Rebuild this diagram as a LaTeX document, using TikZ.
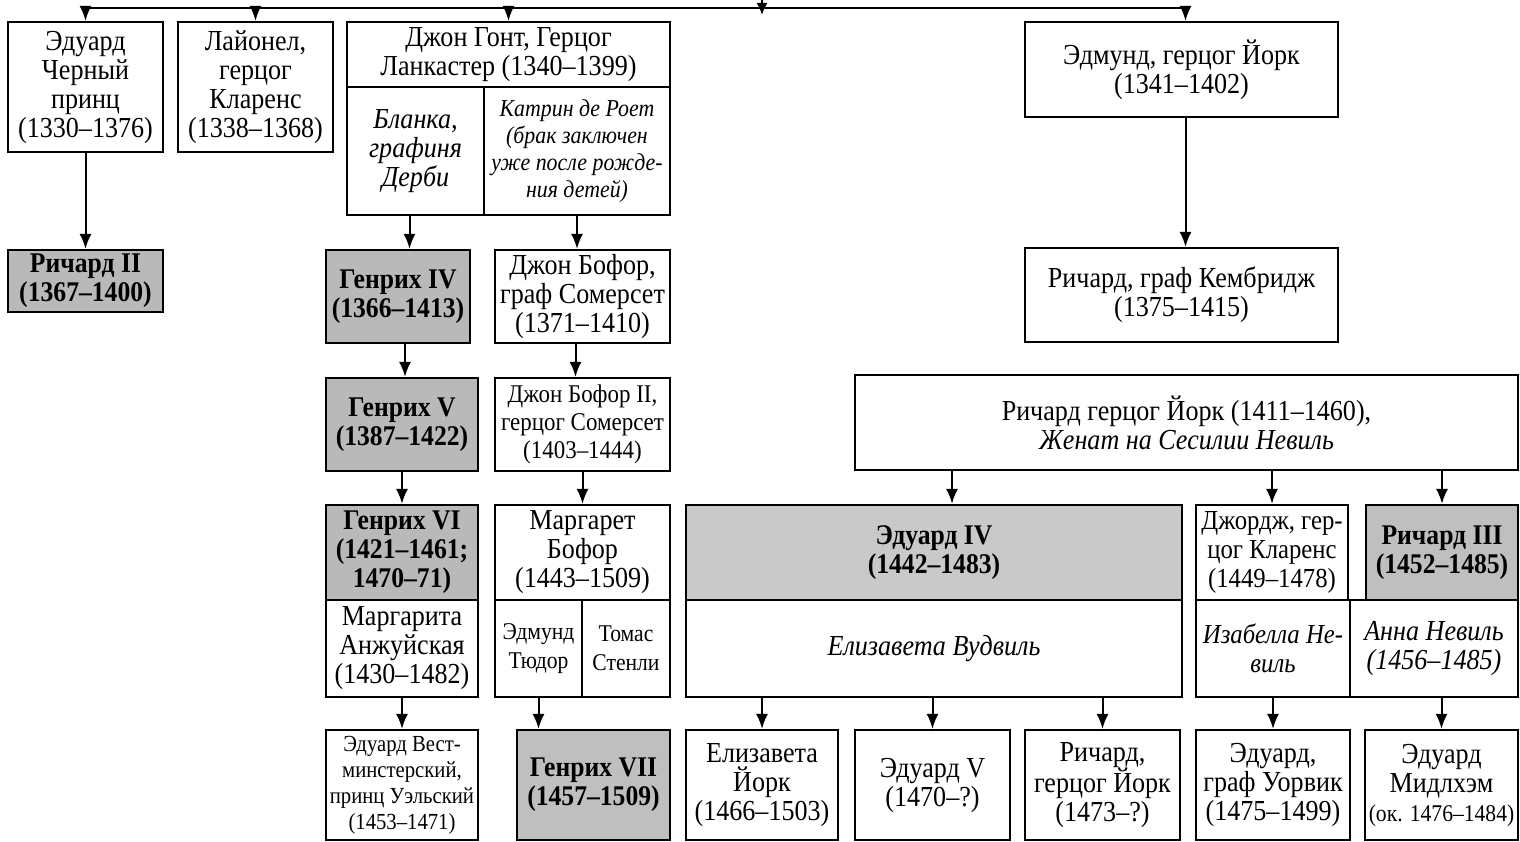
\documentclass[tikz,border=0pt]{standalone}
\usepackage{fontspec}
\setmainfont{Liberation Serif}[FakeStretch=0.9]
\usetikzlibrary{arrows.meta}
\begin{document}
\begin{tikzpicture}[x=1pt,y=-1pt,
boxstyle/.style={draw,line width=2.2pt,rectangle,align=center,inner sep=1pt,font=\fontsize{29}{29}\selectfont},
greystyle/.style={boxstyle,fill=gray!55,font=\fontsize{28.5}{29}\selectfont\bfseries},
slantstyle/.style={boxstyle,font=\fontsize{29}{29}\selectfont\itshape},
linkstyle/.style={line width=2pt,-{Latex[length=15pt,width=12pt]}}]
\useasboundingbox (0,0) rectangle (1520,842);
\coordinate (P0) at (762,0);
\coordinate (P1) at (762,8);
\coordinate (P2) at (762,15);
\node[boxstyle,minimum width=155,minimum height=130](E1) at (85.5,87){Эдуард\\Черный\\принц\\(1330–1376)};
\node[boxstyle,minimum width=155,minimum height=130](L1) at (255.5,87){Лайонел,\\герцог\\Кларенс\\(1338–1368)};
\node[boxstyle,minimum width=323,minimum height=65](J1) at (508.5,54.5){Джон Гонт, Герцог\\Ланкастер (1340–1399)};
\node[slantstyle,minimum width=137,minimum height=128](B1) at (415.5,151){Бланка,\\графиня\\Дерби};
\node[slantstyle,minimum width=186,minimum height=128,font=\fontsize{24.3}{27}\selectfont\itshape](K1) at (577,151){Катрин де Роет\\(брак заключен\\уже после рожде-\\ния детей)};
\node[boxstyle,minimum width=313,minimum height=95](Y1) at (1181.5,69.5){Эдмунд, герцог Йорк\\(1341–1402)};
\node[greystyle,minimum width=155,minimum height=62](R2) at (85.5,281){Ричард II\\(1367–1400)};
\node[greystyle,minimum width=144,minimum height=93](H4) at (398,296.5){Генрих IV\\(1366–1413)};
\node[boxstyle,minimum width=175,minimum height=93](S1) at (582.5,296.5){Джон Бофор,\\граф Сомерсет\\(1371–1410)};
\node[boxstyle,minimum width=313,minimum height=94](C1) at (1181.5,295){Ричард, граф Кембридж\\(1375–1415)};
\node[greystyle,minimum width=152,minimum height=93](H5) at (402,424.5){Генрих V\\(1387–1422)};
\node[boxstyle,minimum width=175,minimum height=93,font=\fontsize{25.5}{28}\selectfont](S2) at (582.5,424.5){Джон Бофор II,\\герцог Сомерсет\\(1403–1444)};
\node[boxstyle,minimum width=663,minimum height=95](Y2) at (1186.5,422.5){Ричард герцог Йорк (1411–1460),\\\textit{Женат на Сесилии Невиль}};
\node[greystyle,minimum width=152,minimum height=95](H6) at (402,552.5){Генрих VI\\(1421–1461;\\1470–71)};
\node[boxstyle,minimum width=152,minimum height=97](M1) at (402,648.5){Маргарита\\Анжуйская\\(1430–1482)};
\node[boxstyle,minimum width=175,minimum height=95](M2) at (582.5,552.5){Маргарет\\Бофор\\(1443–1509)};
\node[boxstyle,minimum width=87,minimum height=97,font=\fontsize{24}{29}\selectfont](U1) at (538.5,648.5){Эдмунд\\Тюдор};
\node[boxstyle,minimum width=88,minimum height=97,font=\fontsize{24}{29}\selectfont](U2) at (626,648.5){Томас\\Стенли};
\node[greystyle,minimum width=496,minimum height=95,fill=gray!42](E4) at (934,552.5){Эдуард IV\\(1442–1483)};
\node[slantstyle,minimum width=496,minimum height=97](W1) at (934,648.5){Елизавета Вудвиль};
\node[boxstyle,minimum width=152,minimum height=95,font=\fontsize{27.5}{29}\selectfont](G1) at (1272,552.5){Джордж, гер-\\цог Кларенс\\(1449–1478)};
\node[greystyle,minimum width=152,minimum height=95,fill=gray!50](R3) at (1442,552.5){Ричард III\\(1452–1485)};
\node[slantstyle,minimum width=154,minimum height=97,font=\fontsize{27.5}{29}\selectfont\itshape](I1) at (1273,648.5){Изабелла Не-\\виль};
\node[slantstyle,minimum width=168,minimum height=97](A1) at (1434,648.5){Анна Невиль\\(1456–1485)};
\node[boxstyle,minimum width=152,minimum height=110,font=\fontsize{23}{26}\selectfont](W2) at (402,785){Эдуард Вест-\\минстерский,\\принц Уэльский\\(1453–1471)};
\node[greystyle,minimum width=153,minimum height=110,fill=gray!50](H7) at (593.5,785){Генрих VII\\(1457–1509)};
\node[boxstyle,minimum width=152,minimum height=110](Z1) at (762,785){Елизавета\\Йорк\\(1466–1503)};
\node[boxstyle,minimum width=155,minimum height=110](E5) at (932.5,785){Эдуард V\\(1470–?)};
\node[boxstyle,minimum width=155,minimum height=110](R4) at (1102.5,785){Ричард,\\герцог Йорк\\(1473–?)};
\node[boxstyle,minimum width=154,minimum height=110](E6) at (1273,785){Эдуард,\\граф Уорвик\\(1475–1499)};
\node[boxstyle,minimum width=153,minimum height=110](E7) at (1441.5,785){Эдуард\\Мидлхэм\\{\fontsize{24}{29}\selectfont(ок. 1476–1484)}};
\draw[linkstyle,-{Latex[length=12pt,width=11pt]}] (P0) -- (P2);
\draw[linkstyle] (P1) -| (E1);
\draw[linkstyle] (P1) -| (L1);
\draw[linkstyle] (P1) -| (J1);
\draw[linkstyle] (P1) -| ([xshift=4]Y1.north);
\draw[linkstyle] (E1) -- (R2);
\draw[linkstyle] ([xshift=-6]B1.south) -- ([xshift=-6]B1.south |- H4.north);
\draw[linkstyle] (K1.south) -- (K1.south |- S1.north);
\draw[linkstyle] ([xshift=4]Y1.south) -- ([xshift=4]Y1.south |- C1.north);
\draw[linkstyle] ([xshift=7]H4.south) -- ([xshift=7]H4.south |- H5.north);
\draw[linkstyle] ([xshift=-7]S1.south) -- ([xshift=-7]S1.south |- S2.north);
\draw[linkstyle] (H5) -- (H6);
\draw[linkstyle] (S2) -- (M2);
\draw[linkstyle] ([xshift=18]E4.north |- Y2.south) -- ([xshift=18]E4.north);
\draw[linkstyle] (G1.north |- Y2.south) -- (G1.north);
\draw[linkstyle] (R3.north |- Y2.south) -- (R3.north);
\draw[linkstyle] (M1) -- (W2);
\draw[linkstyle] (U1.south) -- (U1.south |- H7.north);
\draw[linkstyle] (Z1.north |- W1.south) -- (Z1.north);
\draw[linkstyle] (E5.north |- W1.south) -- (E5.north);
\draw[linkstyle] (R4.north |- W1.south) -- (R4.north);
\draw[linkstyle] (E6.north |- I1.south) -- (E6.north);
\draw[linkstyle] (E7.north |- A1.south) -- (E7.north);
\end{tikzpicture}
\end{document}
